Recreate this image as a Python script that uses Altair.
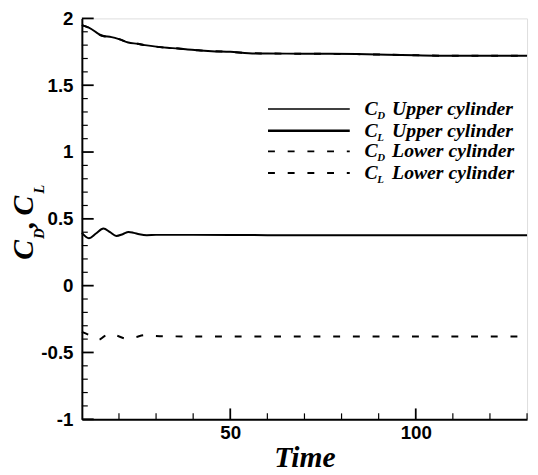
import altair as alt
import pandas as pd

# ---- data ----
cd_upper_t = [10, 12, 15.5, 18, 20, 22.5, 25, 27, 30.5, 33, 36, 38.5, 42, 45, 50, 55, 60, 70, 84, 100, 113, 130]
cd_upper_v = [1.95, 1.93, 1.87, 1.86, 1.845, 1.82, 1.81, 1.80, 1.787, 1.78, 1.775, 1.767, 1.76, 1.755, 1.75, 1.74, 1.737, 1.736, 1.733, 1.724, 1.72, 1.72]

cd_lower_t = [10, 12, 15.5, 18, 20, 22.5, 25, 27, 30.5, 33, 36, 38.5, 42, 45, 50, 55, 60, 70, 84, 100, 113, 130]
cd_lower_v = [1.95, 1.93, 1.87, 1.86, 1.845, 1.82, 1.81, 1.80, 1.787, 1.78, 1.775, 1.767, 1.76, 1.755, 1.75, 1.74, 1.737, 1.736, 1.733, 1.724, 1.72, 1.72]

cl_upper_t = [10, 11.9, 13.8, 15.8, 17.6, 19.3, 21, 22.6, 24, 25.5, 27.5, 30, 40, 60, 80, 100, 130]
cl_upper_v = [0.395, 0.355, 0.39, 0.427, 0.40, 0.372, 0.385, 0.402, 0.395, 0.385, 0.378, 0.38, 0.38, 0.378, 0.378, 0.378, 0.378]

cl_lower_t = [10, 12, 14.5, 16, 17.2, 19.5, 22, 24.5, 26.9, 29.5, 32.2, 40, 60, 80, 100, 130]
cl_lower_v = [-0.346, -0.37, -0.405, -0.38, -0.359, -0.375, -0.396, -0.385, -0.371, -0.376, -0.379, -0.38, -0.38, -0.38, -0.38, -0.38]

x_major = [50, 100]
x_minor = [20, 30, 40, 60, 70, 80, 90, 110, 120, 130]
y_major = [-1, -0.5, 0, 0.5, 1, 1.5, 2]
y_minor = [-0.9, -0.8, -0.7, -0.6, -0.4, -0.3, -0.2, -0.1, 0.1, 0.2, 0.3, 0.4,
           0.6, 0.7, 0.8, 0.9, 1.1, 1.2, 1.3, 1.4, 1.6, 1.7, 1.8, 1.9]

legend_subs = ["D", "L", "D", "L"]
legend_names = ["Upper cylinder", "Upper cylinder", "Lower cylinder", "Lower cylinder"]

W, H = 452, 407
X0, X1 = 10, 130
Y0, Y1 = -1, 2
SERIF = "Liberation Serif"
SANS = "Liberation Sans"

X = alt.X("t:Q", scale=alt.Scale(domain=[X0, X1], nice=False, zero=False),
          axis=alt.Axis(values=x_major, ticks=False, tickSize=0, grid=False,
                        domainColor="black", domainWidth=2,
                        labelFont=SANS, labelFontWeight="bold", labelFontSize=19,
                        labelColor="black", labelPadding=5,
                        title="Time", titleFont=SERIF, titleFontStyle="italic",
                        titleFontWeight="bold", titleFontSize=30, titleColor="black",
                        titlePadding=0))
Y = alt.Y("v:Q", scale=alt.Scale(domain=[Y0, Y1], nice=False, zero=False),
          axis=alt.Axis(values=y_major, ticks=False, tickSize=0, grid=False,
                        domainColor="black", domainWidth=2,
                        labelFont=SANS, labelFontWeight="bold", labelFontSize=19,
                        labelColor="black", labelPadding=9,
                        labelExpr="toString(datum.value)", title=None))


def series(t, v, dash, width):
    df = pd.DataFrame({"t": t, "v": v})
    kw = dict(color="black", strokeWidth=width, interpolate="monotone")
    if dash:
        kw["strokeDash"] = dash
    return alt.Chart(df).mark_line(**kw).encode(x=X, y=Y)


lines = [
    series(cd_lower_t, cd_lower_v, [7, 13], 2),
    series(cd_upper_t, cd_upper_v, None, 2),
    series(cl_upper_t, cl_upper_v, None, 2),
    series(cl_lower_t, cl_lower_v, [7, 13], 2),
]

TICK = "black"


# inward ticks drawn as short rules (pixel lengths)
def xticks(vals, length, sw):
    return alt.Chart(pd.DataFrame({"t": vals})).mark_rule(color=TICK, strokeWidth=sw).encode(
        x=X, y=alt.value(H), y2=alt.value(H - length))


def yticks(vals, length, sw):
    return alt.Chart(pd.DataFrame({"v": vals})).mark_rule(color=TICK, strokeWidth=sw).encode(
        y=Y, x=alt.value(0), x2=alt.value(length))


ticks = [xticks(x_major, 11, 1.8), xticks(x_minor, 6, 1.2),
         yticks(y_major, 12, 1.8), yticks(y_minor, 6, 1.2)]


def txt(s, x, y, size, angle=0):
    kw = dict(text=s, font=SERIF, fontStyle="italic", fontWeight="bold", fontSize=size,
              color="black", align="left", baseline="alphabetic")
    if angle:
        kw["angle"] = angle
    return alt.Chart(pd.DataFrame({"a": [0]})).mark_text(**kw).encode(
        x=alt.value(x), y=alt.value(y))


# y-axis title C_D, C_L (rotated)
ytitle = [
    txt("C", -50, 245, 30, 270),
    txt("D", -38, 224, 15, 270),
    txt(",", -50, 213, 30, 270),
    txt("C", -50, 200, 30, 270),
    txt("L", -38, 178, 15, 270),
]

# legend
rows_y = [92, 114, 135, 157]
dashes = [None, None, [7, 13], [7, 13]]
widths = [1.5, 2.5, 2, 2]
legend = []
for i in range(4):
    ry = rows_y[i]
    kw = dict(color="black", strokeWidth=widths[i])
    if dashes[i]:
        kw["strokeDash"] = dashes[i]
    legend.append(alt.Chart(pd.DataFrame({"a": [0]})).mark_rule(**kw).encode(
        x=alt.value(189), x2=alt.value(272), y=alt.value(ry)))
    legend.append(txt("C", 287, ry + 6, 20))
    legend.append(txt(legend_subs[i], 300, ry + 10, 11))
    legend.append(txt(legend_names[i], 315, ry + 6, 20))

chart = alt.layer(*lines, *ticks, *ytitle, *legend).properties(
    width=W, height=H,
    autosize=alt.AutoSizeParams(type="none"),
    padding={"left": 75, "top": 7, "right": 3, "bottom": 53},
).configure_view(stroke=None).configure(background="white")

chart.save("out.html", embed_options={"renderer": "svg", "actions": False})
